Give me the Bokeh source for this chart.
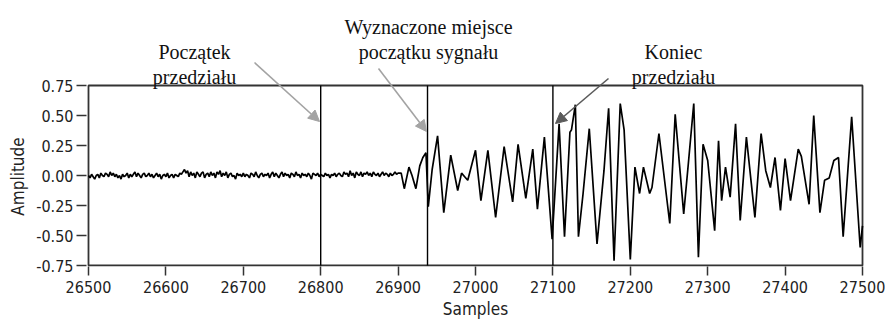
import math
from bokeh.plotting import figure
from bokeh.layouts import row
from bokeh.models import Range1d, FixedTicker, Label, Arrow, NormalHead
from bokeh.embed import file_html
from bokeh.resources import INLINE

# ---------------- data ----------------
# pre-signal noise, one value every 2 samples from 26500 to 26900
noise_start = 26500
noise_step = 2
noise_vals = [
    0.00, -0.02, 0.01, -0.01, -0.03, 0.00, 0.01, -0.02, 0.02, 0.00, -0.01, 0.02, 0.01, -0.01, 0.03, 0.00, 0.02, -0.01, 0.01, -0.02,
    0.00, -0.03, 0.01, -0.01, 0.00, 0.02, -0.02, 0.01, -0.01, 0.01, 0.03, -0.01, 0.02, 0.00, -0.02, 0.01, 0.02, -0.01, 0.00, 0.02,
    -0.01, 0.01, -0.02, 0.00, 0.02, -0.01, 0.01, -0.03, 0.00, 0.01, -0.01, 0.02, -0.02, 0.00, 0.01, -0.02, 0.01, 0.00, -0.01, 0.02,
    0.01, 0.03, 0.05, 0.02, 0.04, -0.01, 0.03, 0.00, 0.02, -0.02, 0.03, 0.01, -0.01, 0.02, 0.03, -0.02, 0.01, 0.02, -0.01, 0.03,
    0.00, 0.02, -0.02, 0.03, 0.01, 0.04, -0.01, 0.02, 0.00, 0.03, -0.02, 0.01, 0.02, -0.01, 0.00, -0.03, 0.02, 0.00, 0.01, -0.01,
    0.02, -0.01, 0.01, 0.00, -0.02, 0.02, 0.01, -0.01, 0.03, 0.00, -0.02, 0.01, 0.02, -0.01, 0.01, 0.00, 0.02, -0.02, 0.01, 0.03,
    -0.01, 0.02, 0.00, -0.02, 0.01, 0.03, -0.01, 0.02, 0.00, 0.01, -0.02, 0.02, 0.01, -0.01, 0.03, 0.00, 0.01, -0.02, 0.02, 0.00,
    0.01, -0.01, 0.02, 0.00, -0.03, 0.02, 0.01, 0.00, 0.02, -0.01, 0.01, 0.00, -0.01, 0.02, 0.00, 0.01, -0.02, 0.01, 0.00, 0.02,
    -0.01, 0.01, 0.02, 0.00, -0.01, 0.03, 0.01, 0.02, -0.01, 0.04, 0.00, 0.02, -0.02, 0.03, 0.01, 0.00, 0.03, -0.01, 0.02, 0.01,
    0.03, 0.00, 0.02, -0.01, 0.03, 0.01, 0.00, 0.02, -0.01, 0.01, 0.03, 0.00, 0.02, 0.01, -0.01, 0.02, 0.00, 0.01, 0.03, 0.01,
    0.02,
]

# signal part: sample positions and amplitudes
sig_samples = [
    26904, 26908, 26914, 26918, 26923, 26928, 26932, 26936, 26939, 26944,
    26951, 26959, 26968, 26977, 26982, 26986, 26990, 27000, 27007, 27016,
    27026, 27037, 27048, 27055, 27065, 27074, 27080, 27089, 27099, 27108,
    27115, 27122, 27124, 27129, 27133, 27139, 27147, 27157, 27166, 27172,
    27179, 27187, 27192, 27200, 27206, 27212, 27217, 27225, 27228, 27237,
    27251, 27258, 27269, 27275, 27282, 27288, 27294, 27300, 27309, 27314,
    27318, 27323, 27329, 27336, 27342, 27350, 27361, 27369, 27375, 27381,
    27387, 27394, 27400, 27407, 27417, 27421, 27431, 27437, 27445, 27451,
    27457, 27463, 27469, 27475, 27486, 27497, 27500,
]
sig_amps = [
    0.02, -0.11, 0.07, 0.00, -0.11, 0.08, 0.15, 0.19, -0.26, 0.05,
    0.33, -0.31, 0.17, -0.125, 0.02, -0.01, -0.04, 0.21, -0.21, 0.21,
    -0.35, 0.24, -0.22, 0.26, -0.19, 0.22, -0.28, 0.32, -0.53, 0.43,
    -0.51, 0.36, 0.38, 0.59, -0.51, -0.15, 0.39, -0.57, 0.04, 0.56,
    -0.71, 0.60, 0.38, -0.70, 0.07, -0.15, 0.07, -0.15, -0.10, 0.35,
    -0.40, 0.51, -0.32, 0.10, 0.60, -0.68, 0.26, 0.125, -0.46, 0.29,
    -0.21, 0.07, -0.18, 0.43, -0.375, 0.32, -0.35, 0.35, 0.04, -0.10,
    0.15, -0.29, 0.14, -0.21, 0.22, 0.16, -0.24, 0.50, -0.31, -0.04,
    -0.02, 0.125, 0.15, -0.51, 0.49, -0.60, -0.42,
]

# marker lines (samples)
marker_samples = [26800, 26938, 27100]

# axes
x_min, x_max = 26500, 27500
y_min, y_max = -0.75, 0.75
x_ticks = [26500, 26600, 26700, 26800, 26900, 27000, 27100, 27200, 27300, 27400, 27500]
y_ticks = [-0.75, -0.5, -0.25, 0.0, 0.25, 0.5, 0.75]
y_tick_labels = ["-0.75", "-0.50", "-0.25", "0.00", "0.25", "0.50", "0.75"]
x_label = "Samples"
y_label = "Amplitude"

# annotation texts
ann_texts = [["Początek", "przedziału"],
             ["Wyznaczone miejsce", "początku sygnału"],
             ["Koniec", "przedziału"]]

# ---------------- page geometry (pixels) ----------------
W, H = 885, 322
STRIP_W = 30                     # narrow strip holding the rotated y label
BOX_L, BOX_R, BOX_T, BOX_B = 88, 862, 85, 265     # the data box
FR_L, FR_R, FR_T, FR_B = 86, 864, 0, 266          # the drawing frame

def px_to_x(px):
    return x_min + (px - BOX_L) / (BOX_R - BOX_L) * (x_max - x_min)

def py_to_y(py):
    return y_max - (py - BOX_T) / (BOX_B - BOX_T) * (y_max - y_min)

serif = "Liberation Serif"
sans = "DejaVu Sans Condensed, Roboto"
text_pos = [(194, 51), (428, 26), (673, 51)]
arrows = [((254, 62), (319, 121), "#a3a3a3"),
          ((378, 68), (426, 131), "#a3a3a3"),
          ((608, 78), (555, 123), "#5a5a5a")]

# ---------------- main plot ----------------
p = figure(width=W - STRIP_W, height=H, output_backend="svg", toolbar_location=None,
           x_range=Range1d(px_to_x(FR_L), px_to_x(FR_R)),
           y_range=Range1d(py_to_y(FR_B), py_to_y(FR_T)),
           min_border_left=FR_L - STRIP_W, min_border_right=W - FR_R,
           min_border_top=FR_T, min_border_bottom=H - FR_B)
p.background_fill_color = "white"
p.border_fill_color = "white"
p.outline_line_color = None
p.grid.visible = False

# data box outline
p.quad(left=[x_min], right=[x_max], bottom=[y_min], top=[y_max],
       fill_color=None, line_color="#333333", line_width=1.8)

x_all = [noise_start + i * noise_step for i in range(len(noise_vals))] + sig_samples
y_all = noise_vals + sig_amps
p.line(x_all, y_all, line_color="black", line_width=1.7)

p.segment(x0=marker_samples, y0=[y_min] * 3, x1=marker_samples, y1=[y_max] * 3,
          line_color="black", line_width=1.4)

for ax in (p.xaxis[0], p.yaxis[0]):
    ax.axis_line_color = None
    ax.major_tick_line_color = "#333333"
    ax.major_tick_line_width = 1.5
    ax.major_tick_in = 0
    ax.minor_tick_line_color = None
    ax.major_label_text_font = sans
    ax.major_label_text_font_size = "16px"
    ax.major_label_text_color = "#222222"
    ax.axis_label_text_font = sans
    ax.axis_label_text_font_size = "17px"
    ax.axis_label_text_font_style = "normal"
    ax.axis_label_text_color = "#222222"

p.xaxis.ticker = FixedTicker(ticks=x_ticks)
p.yaxis.ticker = FixedTicker(ticks=y_ticks)
p.yaxis.major_label_overrides = {t: l for t, l in zip(y_ticks, y_tick_labels)}
p.xaxis.axis_label = x_label
p.xaxis.major_tick_out = 9
p.yaxis.major_tick_out = 10
p.xaxis.major_label_standoff = 5
p.yaxis.major_label_standoff = 3
p.xaxis.axis_label_standoff = 3

for (cx, by), lines in zip(text_pos, ann_texts):
    for k, t in enumerate(lines):
        p.add_layout(Label(x=px_to_x(cx), y=py_to_y(by + 25 * k), text=t,
                           text_align="center", text_baseline="alphabetic",
                           text_font=serif, text_font_size="20px", text_color="#111111"))

for (sx, sy), (ex, ey), col in arrows:
    p.add_layout(Arrow(x_start=px_to_x(sx), y_start=py_to_y(sy),
                       x_end=px_to_x(ex), y_end=py_to_y(ey),
                       line_color=col, line_width=1.6,
                       end=NormalHead(size=11, fill_color=col, line_color=col)))

# ---------------- left strip with the rotated y label ----------------
strip = figure(width=STRIP_W, height=H, output_backend="svg", toolbar_location=None,
               x_range=Range1d(0, STRIP_W),
               y_range=Range1d(py_to_y(FR_B), py_to_y(FR_T)),
               x_axis_location=None, y_axis_location=None,
               min_border_left=0, min_border_right=0,
               min_border_top=FR_T, min_border_bottom=H - FR_B)
strip.outline_line_color = None
strip.grid.visible = False
strip.add_layout(Label(x=17, y=py_to_y(176), text=y_label, angle=math.pi / 2,
                       text_align="center", text_baseline="middle",
                       text_font=sans, text_font_size="17px", text_color="#222222"))

layout = row(strip, p, spacing=0)
open("out.html", "w").write(file_html(layout, INLINE))
